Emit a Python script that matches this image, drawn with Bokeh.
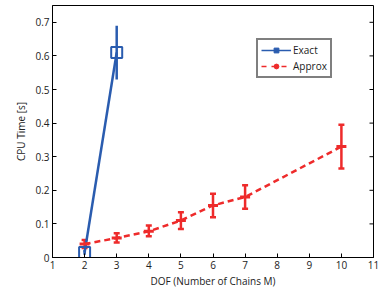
from bokeh.plotting import figure
from bokeh.models import (ColumnDataSource, Whisker, Legend, LegendItem,
                          Range1d, FixedTicker)
from bokeh.embed import file_html
from bokeh.resources import INLINE

exact_x = [2, 3]
exact_y = [0.015, 0.61]
exact_lo = [0.008, 0.53]
exact_hi = [0.022, 0.69]

approx_x = [2, 3, 4, 5, 6, 7, 10]
approx_y = [0.040, 0.058, 0.078, 0.110, 0.155, 0.180, 0.330]
approx_lo = [0.028, 0.045, 0.063, 0.085, 0.120, 0.145, 0.265]
approx_hi = [0.052, 0.072, 0.095, 0.135, 0.190, 0.215, 0.395]

x_ticks = list(range(1, 12))
y_ticks = [0, 0.1, 0.2, 0.3, 0.4, 0.5, 0.6, 0.7]

X_MIN, X_MAX = 1, 11
Y_MIN, Y_MAX = 0, 0.75

BLUE = "#2a5caf"
RED = "#ee2b2b"
FONT = "Open Sans"

p = figure(width=383, height=290, output_backend="svg", toolbar_location=None,
           x_range=Range1d(X_MIN, X_MAX), y_range=Range1d(Y_MIN, Y_MAX),
           min_border_left=52, min_border_right=10, min_border_top=5, min_border_bottom=33)
p.grid.visible = False
p.outline_line_color = "black"
p.outline_line_width = 1
p.background_fill_color = "white"
p.border_fill_color = "white"

p.xaxis.ticker = FixedTicker(ticks=x_ticks)
p.yaxis.ticker = FixedTicker(ticks=y_ticks)
p.yaxis.major_label_overrides = {0: "0"}
p.xaxis.axis_label = "DOF (Number of Chains M)"
p.yaxis.axis_label = "CPU Time [s]"
for ax in (p.xaxis[0], p.yaxis[0]):
    ax.major_tick_in = 4
    ax.major_tick_out = 0
    ax.minor_tick_line_color = None
    ax.axis_line_color = "black"
    ax.major_label_text_font = FONT
    ax.major_label_text_font_size = "10px"
    ax.major_label_text_color = "#222222"
    ax.axis_label_text_font = FONT
    ax.axis_label_text_font_size = "10px"
    ax.axis_label_text_font_style = "normal"
    ax.axis_label_text_color = "#222222"
p.xaxis.major_label_standoff = 3
p.xaxis.axis_label_standoff = 2
p.yaxis.major_label_standoff = 3
p.yaxis.axis_label_standoff = 4

# inward ticks on the top and right frame edges (clipped to the frame)
p.scatter(x=x_ticks, y=[Y_MAX] * len(x_ticks), marker="line", size=8,
          line_color="black", line_width=1)
p.scatter(x=[X_MAX] * len(y_ticks), y=y_ticks, marker="dash", size=8,
          line_color="black", line_width=1)

src_e = ColumnDataSource(dict(x=exact_x, y=exact_y, lo=exact_lo, hi=exact_hi))
src_a = ColumnDataSource(dict(x=approx_x, y=approx_y, lo=approx_lo, hi=approx_hi))

# Exact
p.line("x", "y", source=src_e, line_color=BLUE, line_width=2.5)
we = Whisker(base="x", lower="lo", upper="hi", source=src_e, line_color=BLUE, line_width=2.5,
             upper_head=None, lower_head=None)
p.add_layout(we)
p.scatter("x", "y", source=src_e, marker="square", size=11, fill_color=None,
          line_color=BLUE, line_width=2)

# Approx
p.line("x", "y", source=src_a, line_color=RED, line_width=2.5, line_dash="6 4")
wa = Whisker(base="x", lower="lo", upper="hi", source=src_a, line_color=RED, line_width=2.5)
for h in (wa.upper_head, wa.lower_head):
    h.line_color = RED
    h.line_width = 2.5
    h.size = 6
p.add_layout(wa)
p.scatter("x", "y", source=src_a, marker="dash", size=10, line_color=RED, line_width=3)

# legend-only glyphs (placed outside the visible range)
off_x = [X_MIN - 5, X_MIN - 4]
off_y = [Y_MIN - 1, Y_MIN - 1]
lg_e_line = p.line(off_x, off_y, line_color=BLUE, line_width=1.5)
lg_e_mark = p.scatter(off_x, off_y, marker="square", size=6, fill_color=BLUE, line_color=BLUE)
lg_a_line = p.line(off_x, off_y, line_color=RED, line_width=1.5, line_dash="5 5")
lg_a_mark = p.scatter(off_x, off_y, marker="circle", size=5, fill_color=RED, line_color=RED)

legend = Legend(items=[LegendItem(label="Exact", renderers=[lg_e_line, lg_e_mark]),
                       LegendItem(label="Approx", renderers=[lg_a_line, lg_a_mark])],
                location=(204, 179))
legend.border_line_color = "black"
legend.border_line_width = 2
legend.label_text_font = FONT
legend.label_text_font_size = "10px"
legend.label_text_color = "#222222"
legend.glyph_width = 30
legend.glyph_height = 12
legend.label_standoff = 2
legend.padding = 3
legend.spacing = 2
legend.margin = 0
legend.label_height = 12
p.add_layout(legend, "center")

open("out.html", "w").write(file_html(p, INLINE))
